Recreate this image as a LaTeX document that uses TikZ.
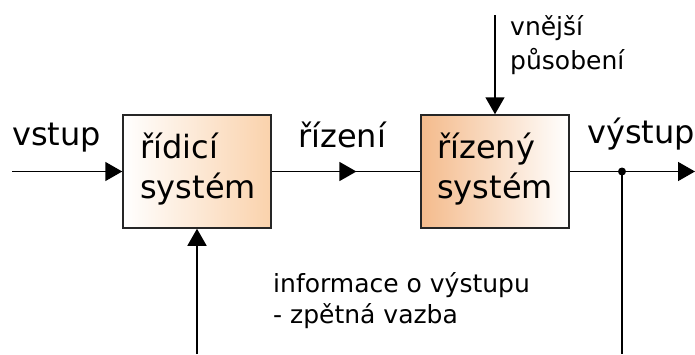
\documentclass[tikz,border=0pt]{standalone}
\usepackage{fontspec}
\setmainfont{DejaVu Sans}
\usetikzlibrary{arrows.meta,calc}
\definecolor{peachA}{HTML}{FAD2AC}
\definecolor{peachB}{HTML}{F4BB8C}
\begin{document}
\begin{tikzpicture}[x=1pt,y=-1pt,
  sysbox/.style={draw=black!85, line width=1.5pt, minimum width=148pt, minimum height=113pt, inner sep=0pt},
  conn/.style={line width=1.5pt, draw=black},
  tip/.style={-{Triangle[length=17pt,width=19pt]}},
  big/.style={font=\fontsize{32}{40}\selectfont, inner sep=0pt, align=left},
  smallA/.style={font=\fontsize{25}{34}\selectfont, inner sep=0pt, align=left},
  smallB/.style={font=\fontsize{25}{31}\selectfont, inner sep=0pt, align=left}]
\useasboundingbox[fill=white] (0,0) rectangle (695,354);
\node[sysbox, left color=white, right color=peachA] (b1) at (197,171.5) {};
\node[sysbox, left color=peachB, right color=white] (b2) at (495,171.5) {};
\node[big, anchor=base west] (b1t) at (140,198) {řídicí\\systém};
\node[big, anchor=base west] (b2t) at (437,198) {řízený\\systém};
% connectors
\coordinate (in) at (12,171.5);
\draw[conn,tip] (in) -- (b1.west);
\draw[conn] (b1.east) -- (b2.west);
\draw[conn,tip] (b1.east) -- ($(b1.east)!0.57!(b2.west)$);
\coordinate (top) at (495,15);
\draw[conn,tip] (top) -- (b2.north);
\coordinate (out) at (695,171.5);
\draw[conn,tip] (b2.east) -- (out);
\node[circle, fill=black, inner sep=0pt, minimum size=8pt] (dot) at (622,171.5) {};
\coordinate (fbR) at (622,354);
\draw[conn] (dot.center) -- (fbR);
\coordinate (fbL) at (197,354);
\draw[conn,tip] (fbL) -- (b1.south);
% labels
\node[big, anchor=base west] (lin) at (12,145) {vstup};
\node[big, anchor=base west] (lctl) at (298,147) {řízení};
\node[big, anchor=base west] (lout) at (587,143) {výstup};
\node[smallA, anchor=base west] (lext) at (510,69) {vnější\\působení};
\node[smallB, anchor=base west] (lfb) at (273,323) {informace o výstupu\\- zpětná vazba};
\end{tikzpicture}
\end{document}
